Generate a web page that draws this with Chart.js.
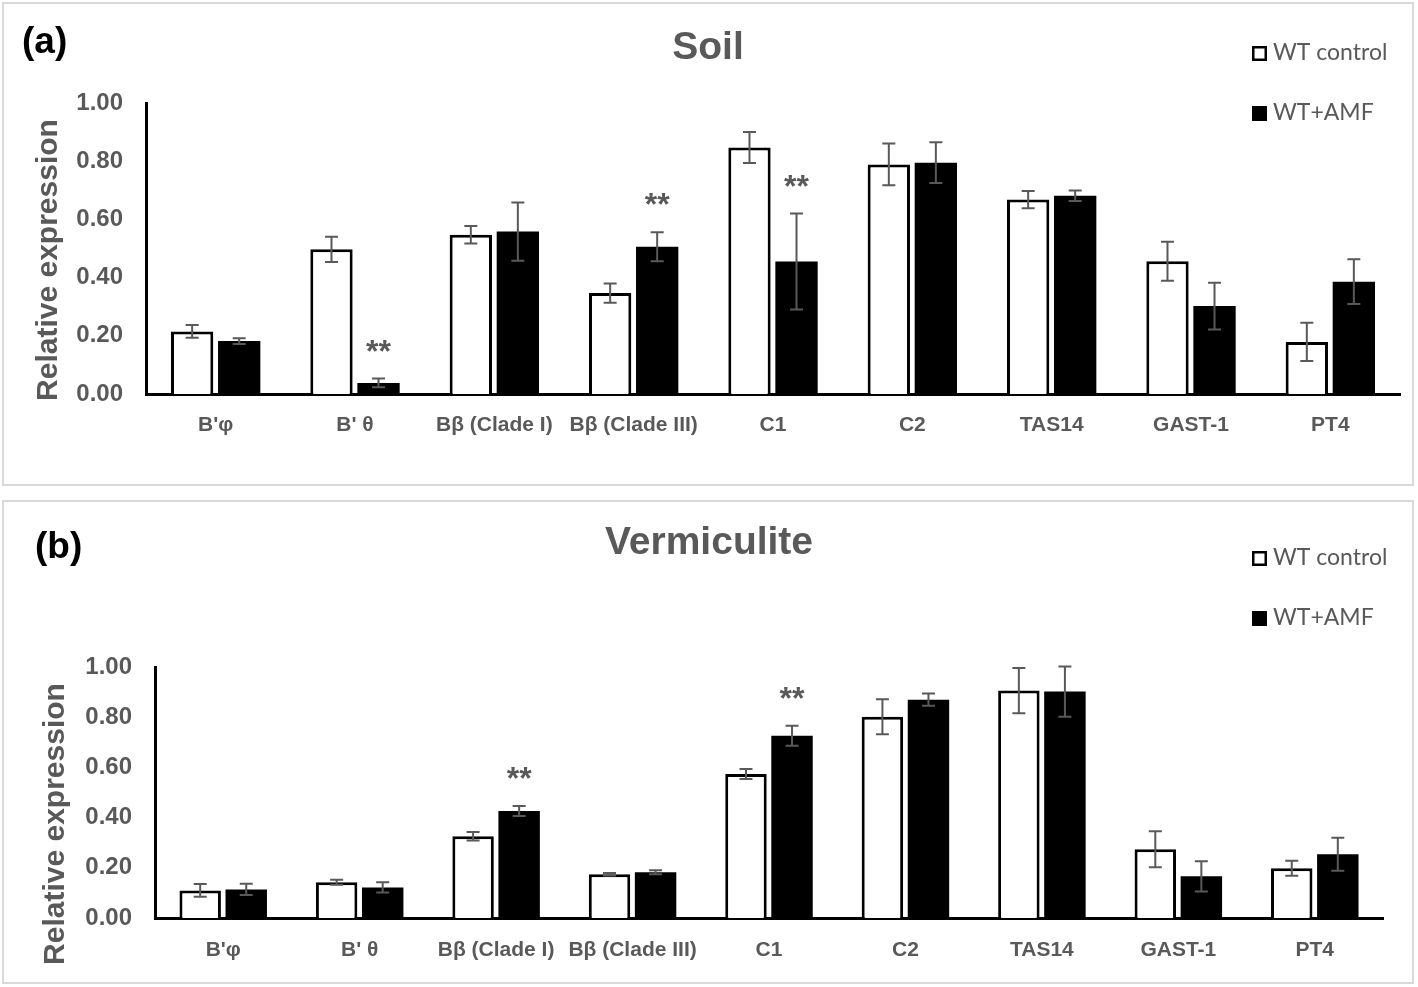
<!DOCTYPE html>
<html>
<head>
<meta charset="utf-8">
<script src="https://cdn.jsdelivr.net/npm/chart.js@4.4.1/dist/chart.umd.min.js"></script>
<style>
    html, body { margin: 0; padding: 0; background: #fff; }
    body { width: 1418px; height: 987px; position: relative; overflow: hidden; }
    .frame { position: absolute; box-sizing: border-box; border: 2px solid #d9d9d9; }
    .wrap  { position: absolute; left: 0; width: 1418px; }
</style>
</head>
<body>
<div class="frame" style="left:2px;top:2px;width:1412px;height:484px"></div>
<div class="frame" style="left:2px;top:500px;width:1412px;height:484px"></div>
<div class="wrap" style="top:0;height:492px"><canvas id="soilChart" width="1418" height="492"></canvas></div>
<div class="wrap" style="top:492px;height:495px"><canvas id="vermChart" width="1418" height="495"></canvas></div>

<script>
/* ── data ─────────────────────────────────────── */
const genes       = ["B'φ", "B' θ", "Bβ (Clade I)", "Bβ (Clade III)", "C1", "C2", "TAS14", "GAST-1", "PT4"];
const seriesNames = ['WT control', 'WT+AMF'];
const yTicks      = [0, 0.2, 0.4, 0.6, 0.8, 1.0];

// (a) Soil
const soilControl    = [0.215, 0.497, 0.547, 0.347, 0.847, 0.789, 0.668, 0.456, 0.179];
const soilControlErr = [0.022, 0.043, 0.030, 0.033, 0.053, 0.072, 0.030, 0.067, 0.066];
const soilAmf        = [0.182, 0.038, 0.558, 0.506, 0.455, 0.795, 0.681, 0.302, 0.386];
const soilAmfErr     = [0.010, 0.015, 0.100, 0.050, 0.165, 0.070, 0.018, 0.080, 0.077];
const soilSig        = ['', '**', '', '**', '**', '', '', '', ''];

// (b) Vermiculite
const vermControl    = [0.110, 0.142, 0.326, 0.174, 0.574, 0.802, 0.906, 0.274, 0.198];
const vermControlErr = [0.025, 0.010, 0.017, 0.005, 0.020, 0.070, 0.090, 0.072, 0.030];
const vermAmf        = [0.114, 0.122, 0.426, 0.182, 0.726, 0.870, 0.902, 0.166, 0.254];
const vermAmfErr     = [0.022, 0.020, 0.020, 0.008, 0.040, 0.024, 0.100, 0.060, 0.066];
const vermSig        = ['', '', '**', '', '**', '', '', '', ''];

const GRAY  = '#595959';
const ARIAL = '"Liberation Sans", Arial, sans-serif';
const LEG   = 'Lato, "Open Sans", sans-serif';

/* ── error bars, stars, titles, legend ────────── */
const decorPlugin = {
    id: 'decor',
    afterDatasetsDraw(chart) {
        const { ctx, scales: { y } } = chart;
        ctx.save();
        chart.data.datasets.forEach((ds, di) => {
            chart.getDatasetMeta(di).data.forEach((bar, i) => {
                const v = ds.data[i], e = ds.errors[i];
                const yTop = y.getPixelForValue(v + e);
                const yBot = y.getPixelForValue(v - e);
                ctx.strokeStyle = GRAY;
                ctx.lineWidth = 2;
                ctx.beginPath();
                ctx.moveTo(bar.x, yTop);       ctx.lineTo(bar.x, yBot);
                ctx.moveTo(bar.x - 6.5, yTop); ctx.lineTo(bar.x + 6.5, yTop);
                ctx.moveTo(bar.x - 6.5, yBot); ctx.lineTo(bar.x + 6.5, yBot);
                ctx.stroke();
                if (ds.marks && ds.marks[i]) {
                    ctx.fillStyle = GRAY;
                    ctx.font = 'bold 32px ' + ARIAL;
                    ctx.textAlign = 'center';
                    ctx.textBaseline = 'alphabetic';
                    ctx.fillText(ds.marks[i], bar.x, yTop - 17);
                }
            });
        });
        ctx.restore();
    },
    afterDraw(chart, args, o) {
        const ctx = chart.ctx;
        ctx.save();
        // panel letter
        ctx.fillStyle = '#000';
        ctx.font = 'bold 37px ' + ARIAL;
        ctx.textAlign = 'left';
        ctx.textBaseline = 'middle';
        ctx.fillText(o.letter, o.letterX, o.letterY);
        // title
        ctx.fillStyle = GRAY;
        ctx.font = 'bold 39px ' + ARIAL;
        ctx.textAlign = 'center';
        ctx.fillText(o.title, o.titleX, o.titleY);
        // legend
        chart.data.datasets.forEach((ds, i) => {
            const cy = o.legendY[i];
            ctx.fillStyle = ds.backgroundColor;
            ctx.fillRect(o.legendX, cy - 7, 15, 15);
            ctx.strokeStyle = '#000';
            ctx.lineWidth = 2.5;
            ctx.strokeRect(o.legendX + 1.25, cy - 5.75, 12.5, 12.5);
            ctx.fillStyle = GRAY;
            ctx.font = '23px ' + LEG;
            ctx.textAlign = 'left';
            ctx.fillText(ds.label, o.legendX + 21, cy);
        });
        // y axis title
        ctx.translate(o.axisX, o.axisY);
        ctx.rotate(-Math.PI / 2);
        ctx.font = 'bold 30px ' + ARIAL;
        ctx.textAlign = 'center';
        ctx.fillText('Relative expression', 0, 0);
        ctx.restore();
    }
};

function makeChart(id, cfg) {
    return new Chart(document.getElementById(id), {
        type: 'bar',
        data: {
            labels: genes,
            datasets: [
                { label: seriesNames[0], data: cfg.control, errors: cfg.controlErr,
                  backgroundColor: '#ffffff', borderColor: '#000', borderWidth: 3 },
                { label: seriesNames[1], data: cfg.amf, errors: cfg.amfErr, marks: cfg.sig,
                  backgroundColor: '#000000', borderColor: '#000', borderWidth: 0 }
            ]
        },
        options: {
            responsive: false, animation: false, events: [],
            datasets: { bar: { categoryPercentage: 0.675, barPercentage: 0.9 } },
            layout: { padding: cfg.padding },
            plugins: {
                legend: { display: false },
                title: { display: false },
                tooltip: { enabled: false },
                decor: cfg.decor
            },
            scales: {
                x: {
                    z: 1,
                    grid: { display: false, drawTicks: false },
                    border: { color: '#000', width: 3 },
                    ticks: { color: GRAY, font: { family: ARIAL, size: 21, weight: 'bold' }, padding: cfg.xPad,
                             autoSkip: false, maxRotation: 0 },
                    afterFit: s => { s.height = cfg.xHeight; }
                },
                y: {
                    z: 1, min: 0, max: 1,
                    afterBuildTicks: s => { s.ticks = yTicks.map(v => ({ value: v })); },
                    grid: { display: false, drawTicks: false },
                    border: { color: '#000', width: 3 },
                    ticks: { color: GRAY, font: { family: ARIAL, size: 24, weight: 'bold' }, padding: 23,
                             callback: v => v.toFixed(2) },
                    afterFit: s => { s.width = cfg.yWidth; }
                }
            }
        },
        plugins: [decorPlugin]
    });
}

makeChart('soilChart', {
    control: soilControl, controlErr: soilControlErr, amf: soilAmf, amfErr: soilAmfErr, sig: soilSig,
    padding: { top: 103, right: 18, left: 0, bottom: 0 },
    yWidth: 146, xHeight: 98, xPad: 19,
    decor: { letter: '(a)', letterX: 22, letterY: 43, title: 'Soil', titleX: 708, titleY: 48,
             legendX: 1252, legendY: [53, 113], axisX: 49, axisY: 260 }
});

makeChart('vermChart', {
    control: vermControl, controlErr: vermControlErr, amf: vermAmf, amfErr: vermAmfErr, sig: vermSig,
    padding: { top: 175, right: 35, left: 0, bottom: 0 },
    yWidth: 155, xHeight: 69, xPad: 20,
    decor: { letter: '(b)', letterX: 35, letterY: 56, title: 'Vermiculite', titleX: 709, titleY: 51,
             legendX: 1252, legendY: [66, 126], axisX: 56, axisY: 332 }
});
</script>
</body>
</html>
